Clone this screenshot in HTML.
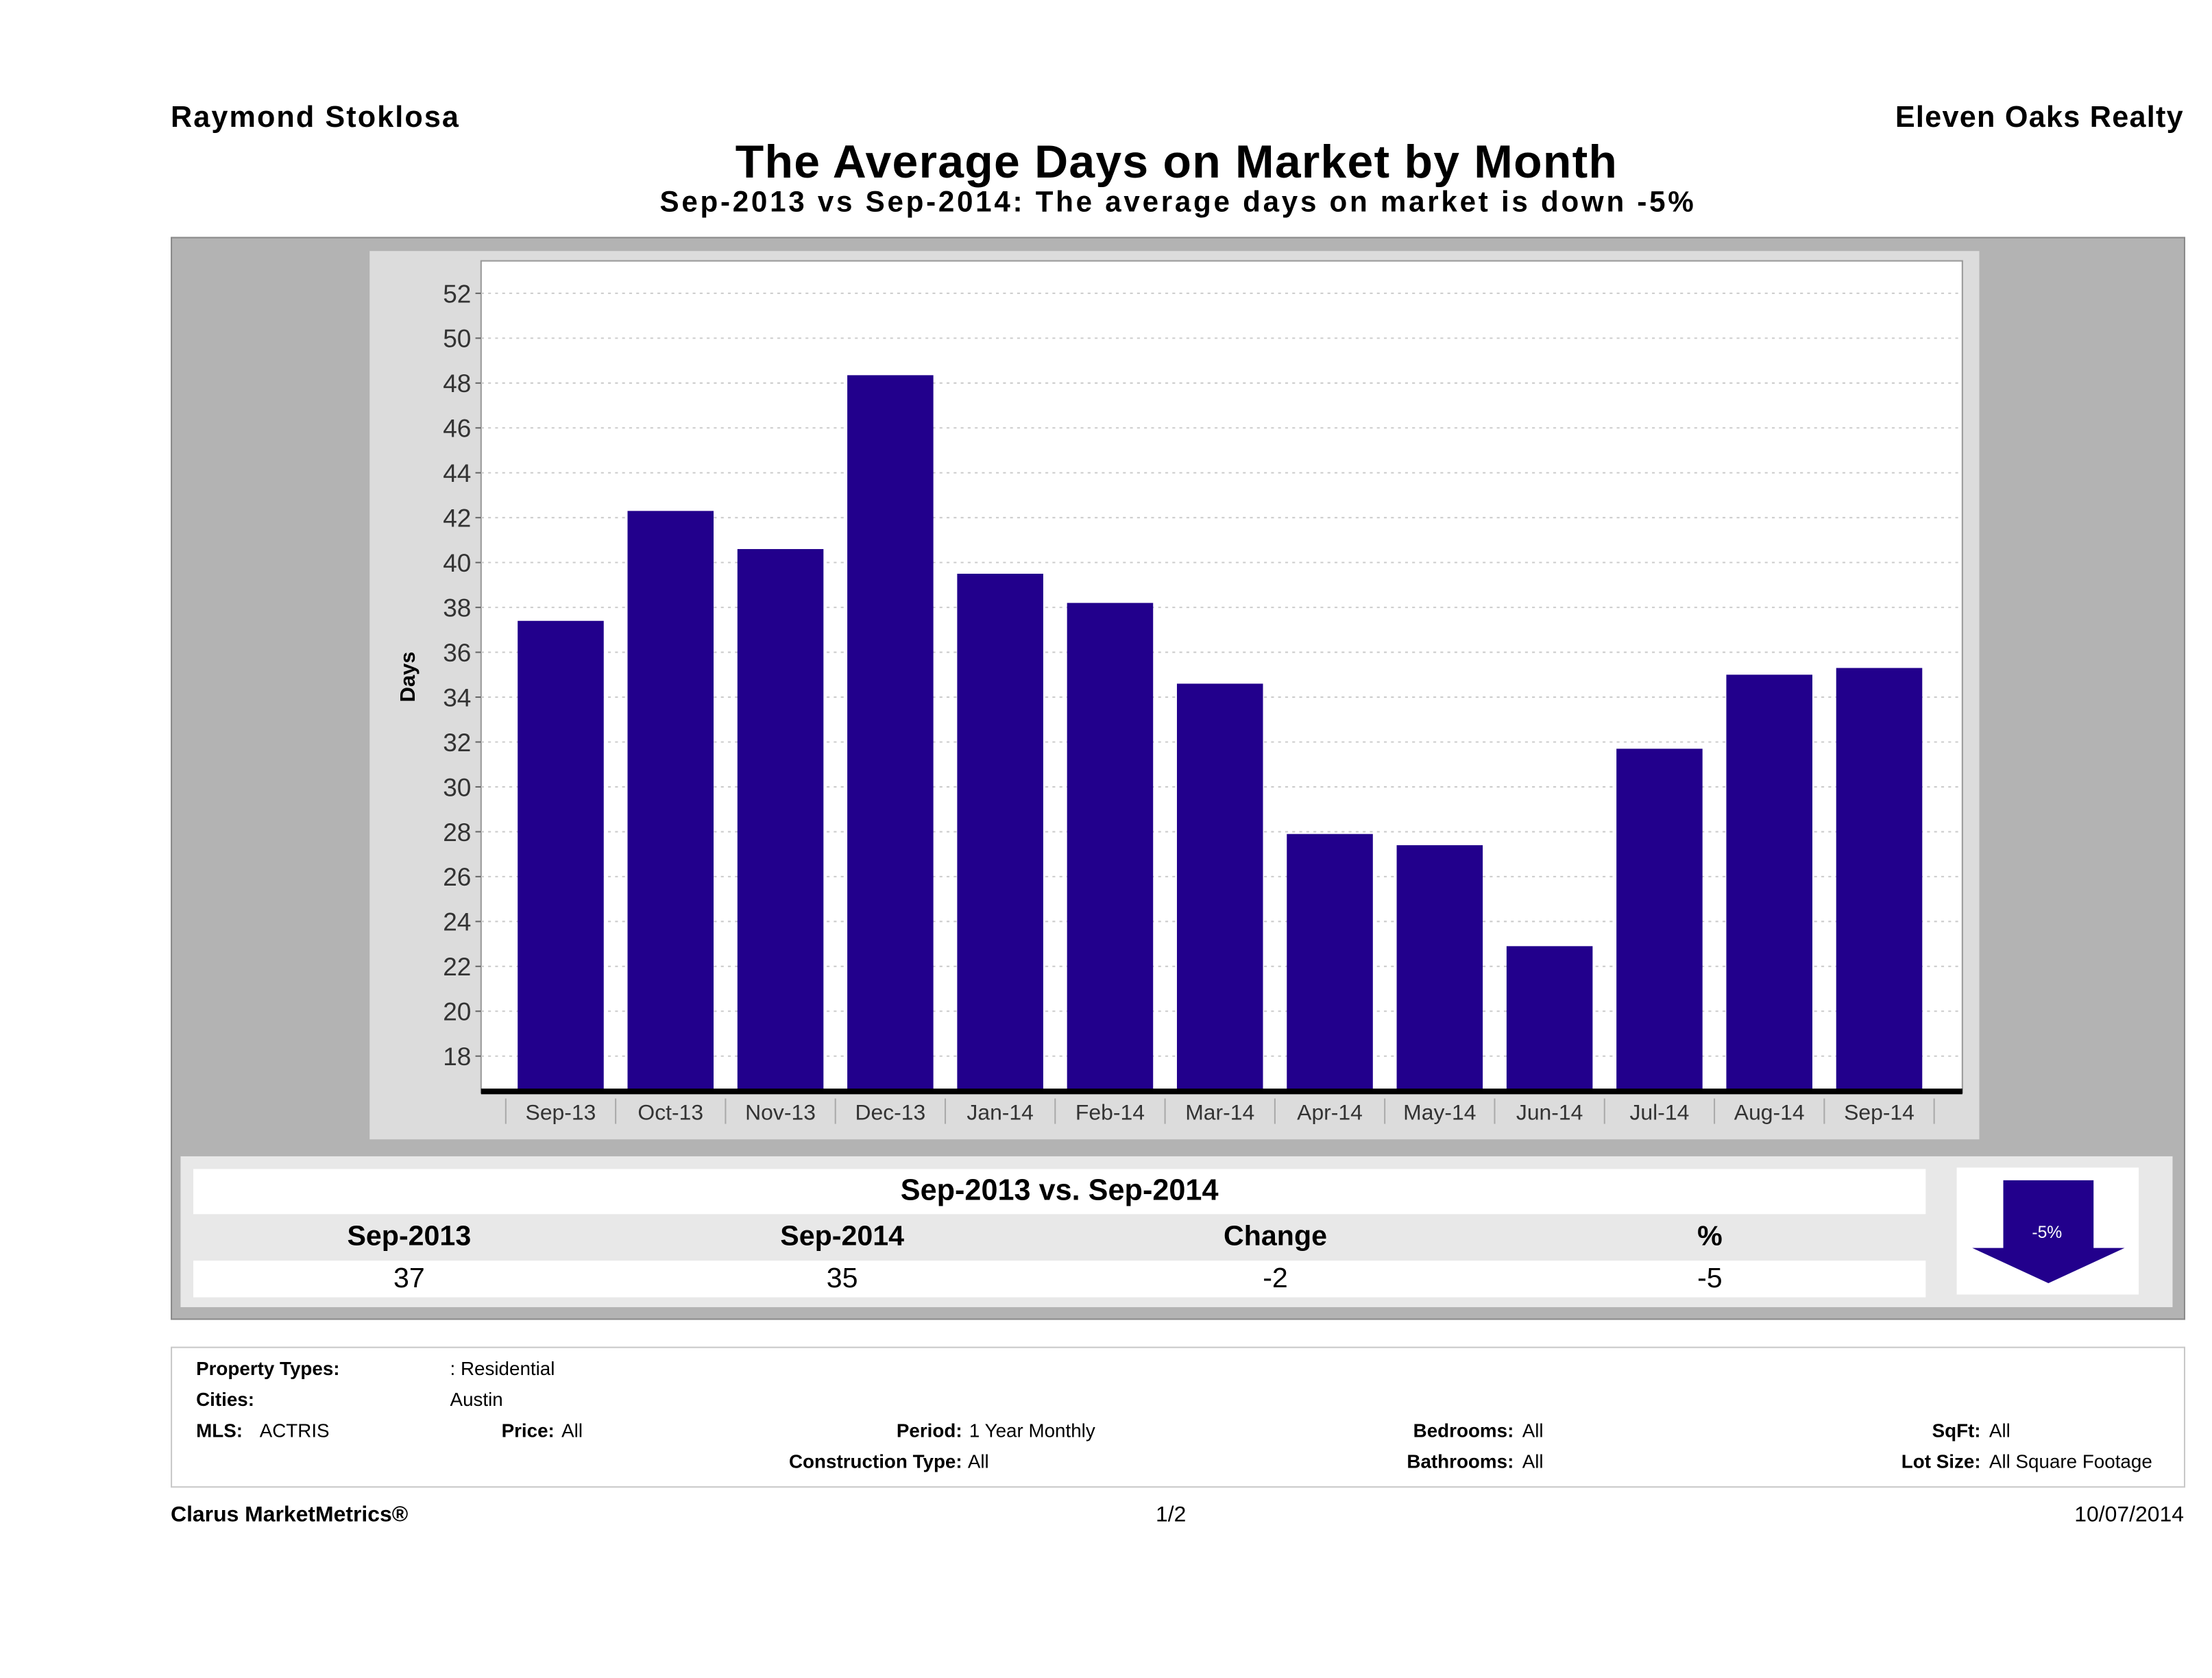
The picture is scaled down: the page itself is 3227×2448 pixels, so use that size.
<!DOCTYPE html>
<html><head><meta charset="utf-8">
<style>
html,body{margin:0;padding:0;background:#fff;width:3227px;height:2448px;overflow:hidden}
#page{position:absolute;left:0;top:0;width:1568px;height:1190px;transform:scale(2.0581,2.0572);transform-origin:0 0;font-family:"Liberation Sans",sans-serif;color:#000}
.a{position:absolute;white-space:nowrap}
.b{font-weight:bold}
.f{font-size:13.5px}
</style></head><body>
<div id="page">
<div class="a b" style="left:121px;top:72px;font-size:21px;letter-spacing:1px">Raymond Stoklosa</div>
<div class="a b" style="right:20px;top:72px;font-size:21px;letter-spacing:0.6px">Eleven Oaks Realty</div>
<div class="a b" style="left:0;width:1668px;text-align:center;top:96px;font-size:33px;letter-spacing:0.6px">The Average Days on Market by Month</div>
<div class="a b" style="left:0;width:1670px;text-align:center;top:132px;font-size:20.5px;letter-spacing:1.8px">Sep-2013 vs Sep-2014: The average days on market is down -5%</div>

<div class="a" style="left:121px;top:168px;width:1426px;height:766px;background:#b3b3b3;border:1px solid #8a8a8a"></div>
<div class="a" style="left:262px;top:178px;width:1141px;height:630px;background:#dcdcdc"></div>
<svg class="a" style="left:0;top:0" width="1568" height="1190" id="chart"></svg>

<div class="a" style="left:128px;top:820px;width:1412px;height:107px;background:#e8e8e8"></div>
<div class="a b" style="left:137px;top:829px;width:1228px;height:32px;background:#fff;text-align:center;line-height:32px;font-size:21px">Sep-2013 vs. Sep-2014</div>
<div class="a b" style="left:137px;top:894px;width:1228px;height:26px;background:#fff"></div>
<div class="a b" style="left:190px;width:200px;text-align:center;top:866px;font-size:20px">Sep-2013</div>
<div class="a b" style="left:497px;width:200px;text-align:center;top:866px;font-size:20px">Sep-2014</div>
<div class="a b" style="left:804px;width:200px;text-align:center;top:866px;font-size:20px">Change</div>
<div class="a b" style="left:1112px;width:200px;text-align:center;top:866px;font-size:20px">%</div>
<div class="a" style="left:190px;width:200px;text-align:center;top:896px;font-size:20px">37</div>
<div class="a" style="left:497px;width:200px;text-align:center;top:896px;font-size:20px">35</div>
<div class="a" style="left:804px;width:200px;text-align:center;top:896px;font-size:20px">-2</div>
<div class="a" style="left:1112px;width:200px;text-align:center;top:896px;font-size:20px">-5</div>
<div class="a" style="left:1387px;top:828px;width:129px;height:90px;background:#fff">
<svg width="129" height="90"><polygon points="33,9 97,9 97,57 119,57 65,82 11,57 33,57" fill="#22008c"/><text x="64" y="50" fill="#fff" font-size="12" text-anchor="middle" font-family="Liberation Sans">-5%</text></svg></div>

<div class="a" style="left:121px;top:955px;width:1426px;height:98px;border:1px solid #c8c8c8;background:#fff"></div>
<div class="a b f" style="left:139px;top:963px">Property Types:</div>
<div class="a f" style="left:319px;top:963px">: Residential</div>
<div class="a b f" style="left:139px;top:985px">Cities:</div>
<div class="a f" style="left:319px;top:985px">Austin</div>
<div class="a b f" style="left:139px;top:1007px">MLS:</div>
<div class="a f" style="left:184px;top:1007px">ACTRIS</div>
<div class="a b f" style="right:1175px;top:1007px">Price:</div>
<div class="a f" style="left:398px;top:1007px">All</div>
<div class="a b f" style="right:886px;top:1007px">Period:</div>
<div class="a f" style="left:687px;top:1007px">1 Year Monthly</div>
<div class="a b f" style="right:886px;top:1029px">Construction Type:</div>
<div class="a f" style="left:686px;top:1029px">All</div>
<div class="a b f" style="right:495px;top:1007px">Bedrooms:</div>
<div class="a f" style="left:1079px;top:1007px">All</div>
<div class="a b f" style="right:495px;top:1029px">Bathrooms:</div>
<div class="a f" style="left:1079px;top:1029px">All</div>
<div class="a b f" style="right:164px;top:1007px">SqFt:</div>
<div class="a f" style="left:1410px;top:1007px">All</div>
<div class="a b f" style="right:164px;top:1029px">Lot Size:</div>
<div class="a f" style="left:1410px;top:1029px">All Square Footage</div>

<div class="a b" style="left:121px;top:1066px;font-size:15.5px">Clarus MarketMetrics®</div>
<div class="a" style="left:780px;width:100px;text-align:center;top:1066px;font-size:15.5px">1/2</div>
<div class="a" style="right:20px;top:1066px;font-size:15.5px">10/07/2014</div>
</div>
<script>
const categories=["Sep-13","Oct-13","Nov-13","Dec-13","Jan-14","Feb-14","Mar-14","Apr-14","May-14","Jun-14","Jul-14","Aug-14","Sep-14"];
const values=[37.4,42.3,40.6,48.35,39.5,38.2,34.6,27.9,27.4,22.9,31.7,35.0,35.3];
const yTicks=[18,20,22,24,26,28,30,32,34,36,38,40,42,44,46,48,50,52];
const svg=document.getElementById('chart');
const NS='http://www.w3.org/2000/svg';
const plotL=341,plotR=1391,plotT=185,plotB=775;
const y=v=>208+(52-v)*15.91;
const bandStart=358.5,band=(1371-358.5)/categories.length;
const x=i=>bandStart+i*band;
function mk(tag,attrs){const e=document.createElementNS(NS,tag);for(const k in attrs)e.setAttribute(k,attrs[k]);svg.appendChild(e);return e;}
const bg=mk('rect',{x:plotL,y:plotT,width:plotR-plotL,height:plotB-plotT,fill:'#fff',stroke:'#999'});


yTicks.forEach(t=>{
  const g=mk('line',{x1:plotL,x2:plotR,y1:y(t),y2:y(t),stroke:'#ccc','stroke-dasharray':'2,3'});
  
  
  const tk=mk('line',{x1:plotL-4,x2:plotL,y1:y(t),y2:y(t),stroke:'#666'});
  
  
  const tx=mk('text',{x:plotL-7,y:y(t)+6.5,'text-anchor':'end','font-size':'18','font-family':'Liberation Sans',fill:'#333'});
  tx.textContent=t;
  
  
});
values.forEach((v,i)=>{
  const w=61,cx=x(i)+band/2;
  const r=mk('rect',{x:cx-w/2,y:y(v),width:w,height:plotB-y(v),fill:'#22008c'});
  
  
  const l=mk('text',{x:cx,y:794,'text-anchor':'middle','font-size':'15.5','font-family':'Liberation Sans',fill:'#333'});
  l.textContent=categories[i];
  
  
});
for(let i=0;i<=categories.length;i++){
  const s=mk('line',{x1:x(i),x2:x(i),y1:779,y2:797,stroke:'#aaa'});
  
  
}
const ax=mk('line',{x1:plotL,x2:plotR,y1:774,y2:774,stroke:'#000','stroke-width':'4'});


const yt=mk('text',{x:0,y:0,transform:'translate(294,480) rotate(-90)','text-anchor':'middle','font-size':'15','font-weight':'bold','font-family':'Liberation Sans'});
yt.textContent='Days';


</script>
</body></html>
